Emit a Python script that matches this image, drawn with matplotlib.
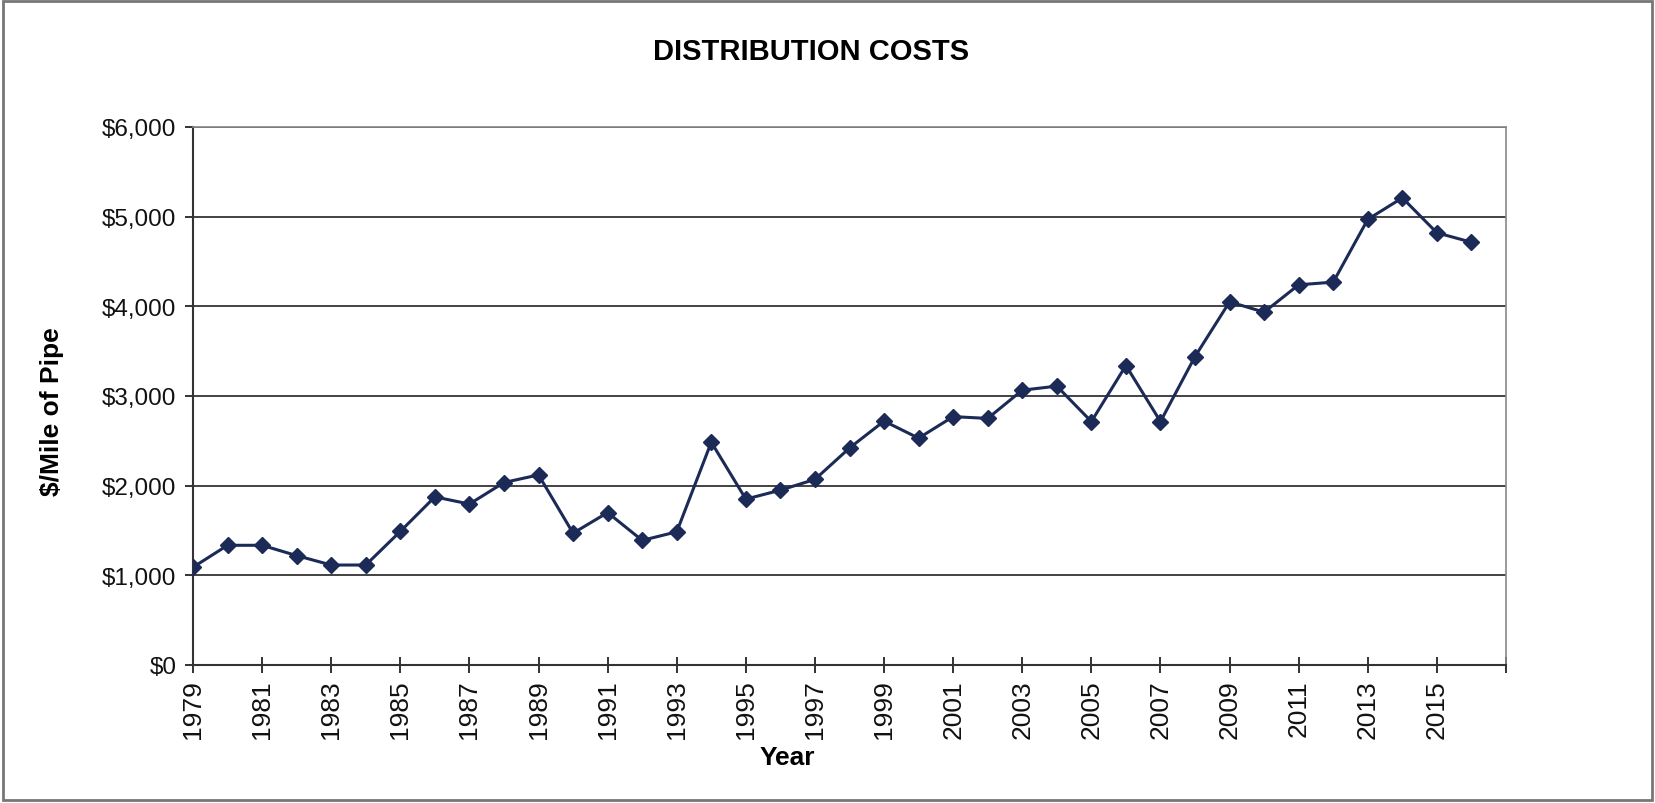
import matplotlib.pyplot as plt
from matplotlib.patches import Rectangle
from matplotlib.ticker import FuncFormatter

plt.rcParams['font.family'] = ['Liberation Sans', 'DejaVu Sans']

# $/mile of pipe
years = list(range(1979, 2017))
cost = [1090, 1335, 1335, 1220, 1115, 1115, 1490, 1875, 1795, 2035,
        2120, 1470, 1700, 1390, 1485, 2485, 1850, 1950, 2070, 2420,
        2720, 2530, 2770, 2750, 3065, 3110, 2715, 3340, 2715, 3440,
        4050, 3935, 4240, 4270, 4970, 5210, 4820, 4715]
tick_years = list(range(1979, 2016, 2))

fig = plt.figure(figsize=(16.55, 8.04), dpi=100)
ax = fig.add_axes([193/1655, 1-666/804, (1506-193)/1655, (666-128)/804])

# categories sit on index 0..37, axis runs to 38
x = [y - 1979 for y in years]
ax.plot(x, cost, color='#1b2a57', lw=2.2, marker='D', ms=8, mfc='#1b2a57', mec='#1b2a57', zorder=3)

ax.set_xlim(0, 38)
ax.set_ylim(0, 6000)
ax.set_yticks(range(0, 6001, 1000))
ax.yaxis.set_major_formatter(FuncFormatter(lambda v, p: '${:,.0f}'.format(v)))
ax.set_xticks([y - 1979 for y in tick_years] + [38])
ax.set_xticklabels([str(y) for y in tick_years] + [''], rotation=90)

ax.grid(axis='y', color='#222222', lw=1.2)
ax.set_axisbelow(True)
for s in ['top', 'right']:
    ax.spines[s].set_color('#888888')
    ax.spines[s].set_linewidth(1.2)
for s in ['left', 'bottom']:
    ax.spines[s].set_color('#333333')
    ax.spines[s].set_linewidth(1.5)

ax.tick_params(axis='y', direction='out', length=6, width=1.2, labelsize=17.5, pad=6, colors='#111111')
ax.tick_params(axis='x', direction='inout', length=12, width=1.2, labelsize=19, pad=4, colors='#111111')

# title and axis labels
fig.text(811/1655, 1-52/804, 'DISTRIBUTION COSTS', ha='center', va='center', fontsize=21, fontweight='bold')
fig.text(52/1655, 1-412/804, '$/Mile of Pipe', ha='center', va='center', rotation=90, fontsize=19, fontweight='bold')
fig.text(787/1655, 1-758/804, 'Year', ha='center', va='center', fontsize=19, fontweight='bold')

# chart frame
fig.patches.append(Rectangle((0.002, 0.004), 0.996, 0.993, transform=fig.transFigure,
                             fill=False, ec='#777777', lw=2))

plt.savefig('out.png', dpi=100)
